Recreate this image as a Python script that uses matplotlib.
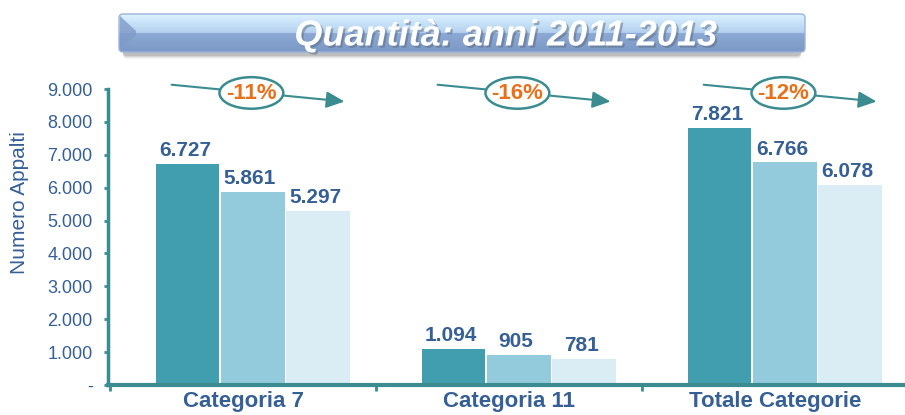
import matplotlib
matplotlib.use('Agg')
import matplotlib.pyplot as plt
import matplotlib.patheffects as pe
from matplotlib.patches import Ellipse, Polygon, FancyBboxPatch
import numpy as np

plt.rcParams['font.family'] = ['Liberation Sans', 'DejaVu Sans']

# dati
categorie = ['Categoria 7', 'Categoria 11', 'Totale Categorie']
anni = ['2011', '2012', '2013']
val_2011 = [6727, 1094, 7821]
val_2012 = [5861, 905, 6766]
val_2013 = [5297, 781, 6078]
variazioni = ['-11%', '-16%', '-12%']
y_ticks = [0, 1000, 2000, 3000, 4000, 5000, 6000, 7000, 8000, 9000]

TEAL = '#3a8c90'
BLU_TESTO = '#365f96'
ARANCIO = '#e8701a'
colori = ['#419eae', '#94cbdc', '#daedf4']

W, H = 905, 415
fig = plt.figure(figsize=(W / 100, H / 100), dpi=100)

# ------------------------------------------------------------
# banner del titolo (asse di sfondo in pixel)
# ------------------------------------------------------------
bg = fig.add_axes([0, 0, 1, 1], zorder=0)
bg.set_xlim(0, W)
bg.set_ylim(H, 0)
bg.axis('off')

x0, x1, y0, y1 = 119, 805, 14, 52
# ombra
for k, a in enumerate([0.10, 0.08, 0.06, 0.04]):
    bg.add_patch(FancyBboxPatch((x0 + 4, y0 + 4 + k), x1 - x0 - 8, y1 - y0,
                                boxstyle='round,pad=0,rounding_size=4',
                                fc='black', ec='none', alpha=a, zorder=1))
# gradiente
top = np.array([[0xdc, 0xf3, 0xff], [0xb2, 0xcf, 0xee]]) / 255
bot = np.array([[0x8c, 0xa8, 0xd4], [0x7c, 0x98, 0xc4]]) / 255
n = 100
t = np.linspace(0, 1, n // 2)[:, None]
grad = np.vstack([top[0] + (top[1] - top[0]) * t,
                  bot[0] + (bot[1] - bot[0]) * t])[:, None, :]
im = bg.imshow(grad, extent=(x0, x1, y1, y0), aspect='auto', zorder=2)
clip = FancyBboxPatch((x0, y0), x1 - x0, y1 - y0,
                      boxstyle='round,pad=0,rounding_size=4',
                      fc='none', ec='#9ab4da', lw=1, zorder=3)
bg.add_patch(clip)
im.set_clip_path(clip)
# smusso a sinistra
bg.add_patch(Polygon([(x0 + 1, y0 + 2), (x0 + 17, (y0 + y1) / 2 - 2),
                      (x0 + 17, (y0 + y1) / 2 + 2), (x0 + 1, y1 - 2)],
                     closed=True, fc='#7f9bc8', ec='none', alpha=0.8, zorder=3))

fig.text(506 / W, 1 - 36 / H, 'Quantità: anni 2011-2013', color='white',
         fontsize=26, fontweight='bold', fontstyle='italic',
         ha='center', va='center', zorder=5,
         path_effects=[pe.withSimplePatchShadow(offset=(1.5, -1.5),
                                                shadow_rgbFace='#5a6a80',
                                                alpha=0.5)])

# ------------------------------------------------------------
# grafico a barre
# ------------------------------------------------------------
ax = fig.add_axes([108 / W, 30 / H, 1 - 108 / W, 296 / H], zorder=2)
ax.patch.set_alpha(0)

x = np.arange(len(categorie))
larg = 0.245
spost = 0.035
serie = [val_2011, val_2012, val_2013]
for j, valori in enumerate(serie):
    xs = x + spost + (j - 1) * larg
    bars = ax.bar(xs, valori, width=larg - 0.006, color=colori[j],
                  label=anni[j], zorder=2)
    for b, v in zip(bars, valori):
        ax.text(b.get_x() + b.get_width() / 2 - 0.01, v + 120,
                f'{v:,}'.replace(',', '.'), ha='center', va='bottom',
                fontsize=15, fontweight='bold', color=BLU_TESTO)

ax.set_xlim(-0.509, 2.487)
ax.set_ylim(0, 9000)

ax.set_yticks(y_ticks, ['-' if v == 0 else f'{v:,}'.replace(',', '.')
                        for v in y_ticks])
ax.set_xticks(x, categorie)
ax.set_xticks(x - 0.5, minor=True)

ax.tick_params(axis='y', colors=TEAL, labelcolor=BLU_TESTO, labelsize=13,
               length=3, width=2, pad=8)
ax.tick_params(axis='x', which='major', length=0, pad=4,
               labelcolor=BLU_TESTO, labelsize=16)
ax.tick_params(axis='x', which='minor', length=4, width=2, colors=TEAL)
for lab in ax.get_xticklabels():
    lab.set_fontweight('bold')

for s in ['top', 'right']:
    ax.spines[s].set_visible(False)
ax.spines['left'].set_color(TEAL)
ax.spines['left'].set_linewidth(2.5)
ax.spines['bottom'].set_color(TEAL)
ax.spines['bottom'].set_linewidth(3)

ax.set_ylabel('Numero Appalti', fontsize=15, color=BLU_TESTO)
ax.yaxis.set_label_coords(-0.099, 0.615)

# frecce con variazione percentuale
for i, etichetta in enumerate(variazioni):
    ax.annotate('', xy=(i + 0.38, 8620), xytext=(i - 0.27, 9130),
                arrowprops=dict(arrowstyle='-|>,head_length=0.55,head_width=0.25',
                                color=TEAL, lw=1.5, mutation_scale=20,
                                shrinkA=0, shrinkB=0),
                annotation_clip=False, zorder=4)
    ax.add_patch(Ellipse((i + 0.03, 8880), 0.24, 960, fc='white', ec=TEAL,
                         lw=1.8, clip_on=False, zorder=5))
    ax.text(i + 0.03, 8860, etichetta, ha='center', va='center',
            fontsize=16, fontweight='bold', color=ARANCIO, zorder=6,
            clip_on=False)

fig.savefig('out.png', dpi=100)
